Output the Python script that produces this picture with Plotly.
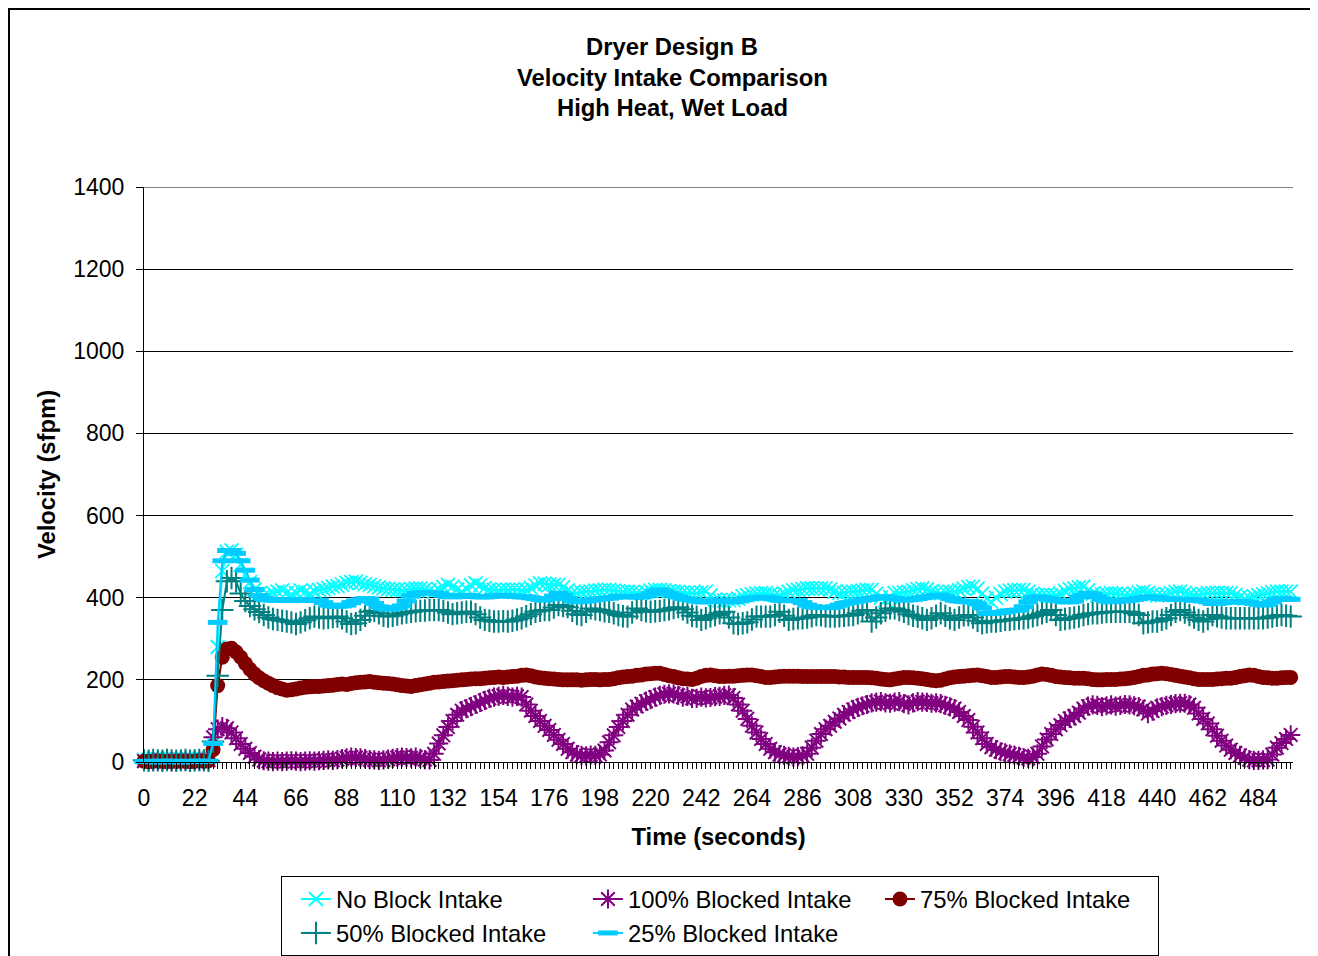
import plotly.graph_objects as go

# time stamps, one reading every 2 seconds
TIME = list(range(0, 500, 2))

NO_BLOCK = [
    5, 6, 4, 7, 5, 6, 5, 7, 6, 5,
    6, 5, 7, 6, 8, 45, 280, 465, 512, 515,
    505, 480, 455, 438, 420, 410, 405, 408, 412, 415,
    418, 412, 408, 412, 418, 414, 410, 416, 419, 421,
    424, 427, 428, 432, 436, 438, 439, 436, 433, 431,
    428, 425, 423, 421, 420, 419, 418, 419, 421, 423,
    423, 421, 418, 415, 420, 426, 431, 427, 420, 415,
    422, 430, 435, 430, 424, 420, 419, 418, 419, 419,
    420, 419, 418, 419, 424, 430, 435, 434, 432, 431,
    431, 426, 418, 412, 411, 413, 415, 415, 417, 418,
    419, 419, 417, 416, 415, 415, 413, 412, 411, 414,
    417, 419, 419, 418, 416, 415, 414, 413, 411, 411,
    411, 413, 415, 405, 396, 394, 393, 394, 394, 398,
    403, 406, 408, 410, 411, 411, 409, 407, 406, 410,
    414, 418, 419, 421, 423, 423, 423, 423, 423, 420,
    415, 411, 412, 414, 415, 416, 417, 419, 419, 410,
    400, 394, 402, 411, 411, 413, 415, 418, 421, 423,
    420, 416, 413, 411, 413, 415, 415, 418, 422, 426,
    427, 422, 410, 398, 390, 400, 409, 415, 417, 418,
    419, 419, 414, 410, 406, 406, 406, 406, 406, 410,
    416, 421, 423, 425, 427, 418, 410, 406, 408, 410,
    411, 410, 408, 406, 406, 410, 413, 415, 412, 409,
    406, 406, 408, 411, 414, 415, 412, 409, 406, 407,
    409, 411, 411, 411, 411, 411, 411, 407, 402, 398,
    400, 403, 406, 408, 411, 413, 415, 415, 415, 415,
]

BLOCKED_100 = [
    2, 3, 1, 2, 3, 2, 1, 2, 3, 2,
    2, 3, 2, 3, 4, 60, 80, 86, 82, 72,
    58, 44, 32, 22, 13, 6, 3, 2, 1, 2,
    1, 2, 3, 2, 1, 2, 3, 2, 3, 4,
    5, 4, 6, 8, 10, 12, 11, 10, 8, 6,
    5, 4, 5, 7, 9, 11, 12, 11, 10, 12,
    9, 6, 5, 20, 45, 65, 85, 100, 115, 125,
    130, 135, 140, 145, 150, 155, 158, 160, 162, 160,
    158, 160, 158, 140, 125, 112, 100, 88, 78, 66,
    54, 44, 32, 24, 18, 16, 15, 17, 16, 18,
    28, 48, 65, 85, 100, 115, 128, 135, 142, 148,
    152, 158, 162, 165, 166, 166, 162, 158, 160, 155,
    155, 158, 156, 157, 159, 160, 162, 163, 156, 140,
    125, 105, 88, 72, 56, 44, 32, 24, 18, 16,
    14, 12, 13, 15, 20, 35, 52, 68, 80, 88,
    98, 106, 115, 122, 128, 133, 137, 140, 144, 146,
    147, 144, 143, 146, 147, 142, 139, 144, 147, 146,
    145, 143, 144, 142, 138, 134, 130, 122, 112, 102,
    86, 72, 58, 44, 36, 30, 25, 22, 19, 17,
    14, 11, 9, 12, 20, 38, 55, 68, 80, 90,
    100, 106, 112, 120, 130, 136, 139, 138, 135, 137,
    139, 136, 138, 140, 139, 137, 135, 128, 118, 124,
    132, 135, 138, 140, 142, 143, 143, 140, 132, 118,
    105, 94, 80, 64, 52, 40, 30, 22, 16, 10,
    6, 4, 4, 5, 6, 18, 35, 46, 56, 66,
]

BLOCKED_75 = [
    2, 1, 2, 3, 2, 1, 2, 2, 3, 2,
    1, 2, 3, 2, 3, 30, 186, 255, 275, 277,
    268, 255, 240, 226, 214, 205, 198, 192, 186, 181,
    178, 175, 176, 178, 180, 182, 183, 184, 184, 185,
    186, 187, 189, 190, 189, 191, 193, 194, 195, 196,
    194, 193, 192, 191, 190, 188, 186, 185, 184, 186,
    188, 190, 192, 194, 195, 196, 197, 198, 199, 200,
    201, 202, 203, 203, 204, 205, 206, 207, 206, 207,
    208, 209, 211, 212, 210, 207, 205, 204, 203, 202,
    201, 200, 200, 200, 200, 199, 200, 201, 201, 200,
    201, 201, 203, 205, 207, 208, 209, 211, 212, 214,
    215, 216, 216, 213, 210, 208, 205, 203, 202, 201,
    204, 208, 211, 212, 210, 208, 208, 209, 209, 210,
    211, 212, 212, 210, 208, 206, 206, 207, 208, 209,
    209, 209, 209, 208, 208, 208, 208, 208, 208, 208,
    208, 207, 207, 206, 206, 206, 206, 206, 205, 204,
    202, 201, 200, 202, 204, 206, 206, 205, 204, 203,
    201, 199, 198, 199, 202, 205, 207, 208, 209, 210,
    211, 212, 210, 208, 206, 206, 207, 208, 208, 207,
    206, 206, 207, 209, 212, 214, 213, 211, 208, 207,
    206, 205, 204, 204, 204, 203, 201, 200, 200, 201,
    201, 201, 202, 203, 204, 206, 208, 211, 212, 214,
    215, 216, 215, 213, 211, 209, 207, 205, 203, 201,
    201, 201, 201, 202, 203, 204, 204, 206, 208, 210,
    212, 211, 208, 206, 205, 204, 204, 205, 206, 206,
]

BLOCKED_50 = [
    4, 3, 5, 4, 3, 5, 4, 3, 4, 5,
    3, 4, 5, 4, 3, 50, 210, 370, 440, 448,
    440, 410, 392, 380, 372, 365, 358, 352, 348, 346,
    344, 342, 340, 336, 340, 345, 350, 354, 352, 350,
    351, 353, 354, 350, 342, 336, 338, 346, 356, 366,
    368, 362, 356, 354, 356, 359, 362, 364, 366, 367,
    368, 369, 370, 370, 370, 368, 364, 360, 362, 364,
    366, 366, 360, 352, 346, 344, 342, 342, 343, 342,
    344, 347, 350, 355, 360, 366, 368, 370, 370, 376,
    382, 380, 377, 368, 360, 358, 366, 374, 372, 370,
    367, 366, 362, 358, 355, 354, 364, 374, 370, 367,
    366, 367, 368, 370, 372, 375, 377, 372, 364, 356,
    354, 346, 350, 355, 358, 362, 366, 352, 338, 336,
    338, 340, 347, 354, 354, 354, 354, 358, 366, 356,
    346, 348, 350, 350, 352, 355, 358, 357, 355, 354,
    354, 355, 356, 357, 358, 362, 368, 370, 342, 352,
    362, 368, 374, 374, 370, 366, 360, 356, 354, 350,
    346, 350, 356, 362, 356, 350, 346, 352, 357, 358,
    352, 344, 338, 340, 342, 342, 344, 346, 346, 348,
    349, 350, 352, 355, 358, 362, 366, 370, 358, 346,
    348, 350, 352, 354, 358, 360, 362, 362, 364, 365,
    366, 366, 366, 366, 366, 362, 358, 338, 340, 342,
    342, 346, 350, 358, 366, 370, 364, 358, 352, 346,
    342, 348, 358, 355, 352, 350, 350, 350, 350, 350,
    350, 350, 350, 350, 352, 354, 356, 358, 356, 354,
]

BLOCKED_25 = [
    1, 2, 1, 0, 2, 1, 2, 1, 0, 1,
    2, 1, 2, 1, 2, 45, 340, 490, 515, 515,
    508, 490, 467, 443, 420, 405, 398, 395, 394, 394,
    395, 394, 393, 394, 395, 396, 394, 393, 394, 388,
    382, 380, 379, 380, 382, 388, 392, 395, 398, 397,
    386, 378, 374, 372, 374, 376, 380, 392, 404, 410,
    412, 412, 412, 412, 410, 406, 403, 402, 403, 405,
    406, 405, 403, 402, 402, 403, 405, 406, 406, 404,
    404, 403, 402, 402, 400, 398, 396, 394, 398, 404,
    411, 406, 398, 392, 390, 391, 392, 394, 396, 397,
    398, 399, 401, 403, 404, 403, 402, 402, 402, 405,
    410, 415, 419, 415, 410, 406, 402, 398, 396, 394,
    392, 390, 390, 391, 393, 394, 392, 390, 390, 392,
    395, 398, 399, 400, 401, 401, 399, 397, 394, 393,
    393, 393, 393, 388, 382, 378, 377, 376, 376, 376,
    378, 382, 386, 388, 390, 392, 394, 396, 398, 400,
    402, 402, 400, 398, 396, 394, 395, 396, 398, 400,
    402, 404, 406, 406, 402, 398, 394, 392, 391, 390,
    390, 385, 375, 362, 362, 363, 364, 366, 368, 369,
    370, 378, 390, 400, 402, 400, 398, 396, 394, 392,
    390, 390, 392, 402, 406, 411, 408, 402, 396, 392,
    390, 391, 392, 393, 394, 396, 398, 400, 402, 401,
    400, 398, 397, 397, 396, 396, 396, 395, 394, 394,
    392, 390, 386, 386, 388, 390, 390, 390, 390, 390,
    388, 386, 384, 382, 384, 390, 396, 398, 397, 396,
]

FONT = "Liberation Sans, Arial, sans-serif"
TEXT_SIZE = 23.8

# name, values, colour, marker symbol, marker size, marker outline width
SERIES = [
    ("No Block Intake", NO_BLOCK, "#00FFFF", "x-thin-open", 14, 1.8),
    ("100% Blocked Intake", BLOCKED_100, "#800080", "asterisk-open", 16, 2),
    ("75% Blocked Intake", BLOCKED_75, "#800000", "circle", 15, 0),
    ("50% Blocked Intake", BLOCKED_50, "#008080", "cross-thin-open", 16, 2),
    ("25% Blocked Intake", BLOCKED_25, "#00CCFF", "line-ew-open", 14, 5),
]

fig = go.Figure()
for name, values, color, symbol, size, lw in SERIES:
    fig.add_trace(
        go.Scatter(
            x=TIME, y=values, name=name, mode="lines+markers",
            line={"color": color, "width": 2},
            marker={"symbol": symbol, "size": size, "color": color,
                    "line": {"color": color, "width": lw}},
            cliponaxis=False,
        )
    )

# the page body adds an 8px margin, so the figure is 8px smaller
fig.update_layout(
    width=1310,
    height=948,
    paper_bgcolor="white",
    plot_bgcolor="white",
    font={"family": FONT, "size": TEXT_SIZE, "color": "black"},
    margin={"l": 136, "r": 25, "t": 179, "b": 194, "autoexpand": False},
    showlegend=True,
    legend={
        "orientation": "h", "x": 0.1192, "xanchor": "left",
        "y": -0.1983, "yanchor": "top",
        "entrywidth": 233, "entrywidthmode": "pixels",
        "indentation": 14,
        "bordercolor": "black", "borderwidth": 1,
        "font": {"size": TEXT_SIZE},
        "traceorder": "normal",
    },
    shapes=[
        # chart-area border
        {"type": "rect", "xref": "paper", "yref": "paper",
         "x0": -0.1175, "x1": 1.05, "y0": -0.36, "y1": 1.3096,
         "line": {"color": "black", "width": 2}, "layer": "below"},
        # top gridline at 1400
        {"type": "line", "xref": "paper", "yref": "y",
         "x0": 0, "x1": 1, "y0": 1400, "y1": 1400,
         "line": {"color": "black", "width": 1}},
    ],
)

# three-line title
for text, ypos in [("Dryer Design B", 1.2452),
                   ("Velocity Intake Comparison", 1.1913),
                   ("High Heat, Wet Load", 1.1374)]:
    fig.add_annotation(
        text=f"<b>{text}</b>", xref="paper", yref="paper",
        x=(672 - 144) / 1149, y=ypos, showarrow=False,
        font={"size": TEXT_SIZE}, xanchor="center", yanchor="middle",
    )

fig.update_xaxes(
    range=[0, 499],
    tickmode="linear", tick0=0, dtick=22,
    ticks="outside", ticklen=6, tickcolor="black",
    minor={"tickmode": "linear", "tick0": 0, "dtick": 2,
           "ticks": "outside", "ticklen": 6, "tickcolor": "black"},
    showline=True, linecolor="black", linewidth=1,
    showgrid=False, zeroline=False,
    tickfont={"size": 23},
    ticklabelstandoff=9,
    title={"text": "<b>Time (seconds)</b>", "font": {"size": TEXT_SIZE},
           "standoff": 18},
)
fig.update_yaxes(
    range=[0, 1400],
    tickmode="linear", tick0=0, dtick=200,
    ticks="outside", ticklen=7, tickcolor="black",
    showline=True, linecolor="black", linewidth=1,
    showgrid=True, gridcolor="black", gridwidth=1,
    zeroline=False,
    tickfont={"size": 23},
    ticklabelstandoff=7,
    title={"text": "<b>Velocity (sfpm)</b>", "font": {"size": TEXT_SIZE},
           "standoff": 10},
)

fig.write_html("out.html")
